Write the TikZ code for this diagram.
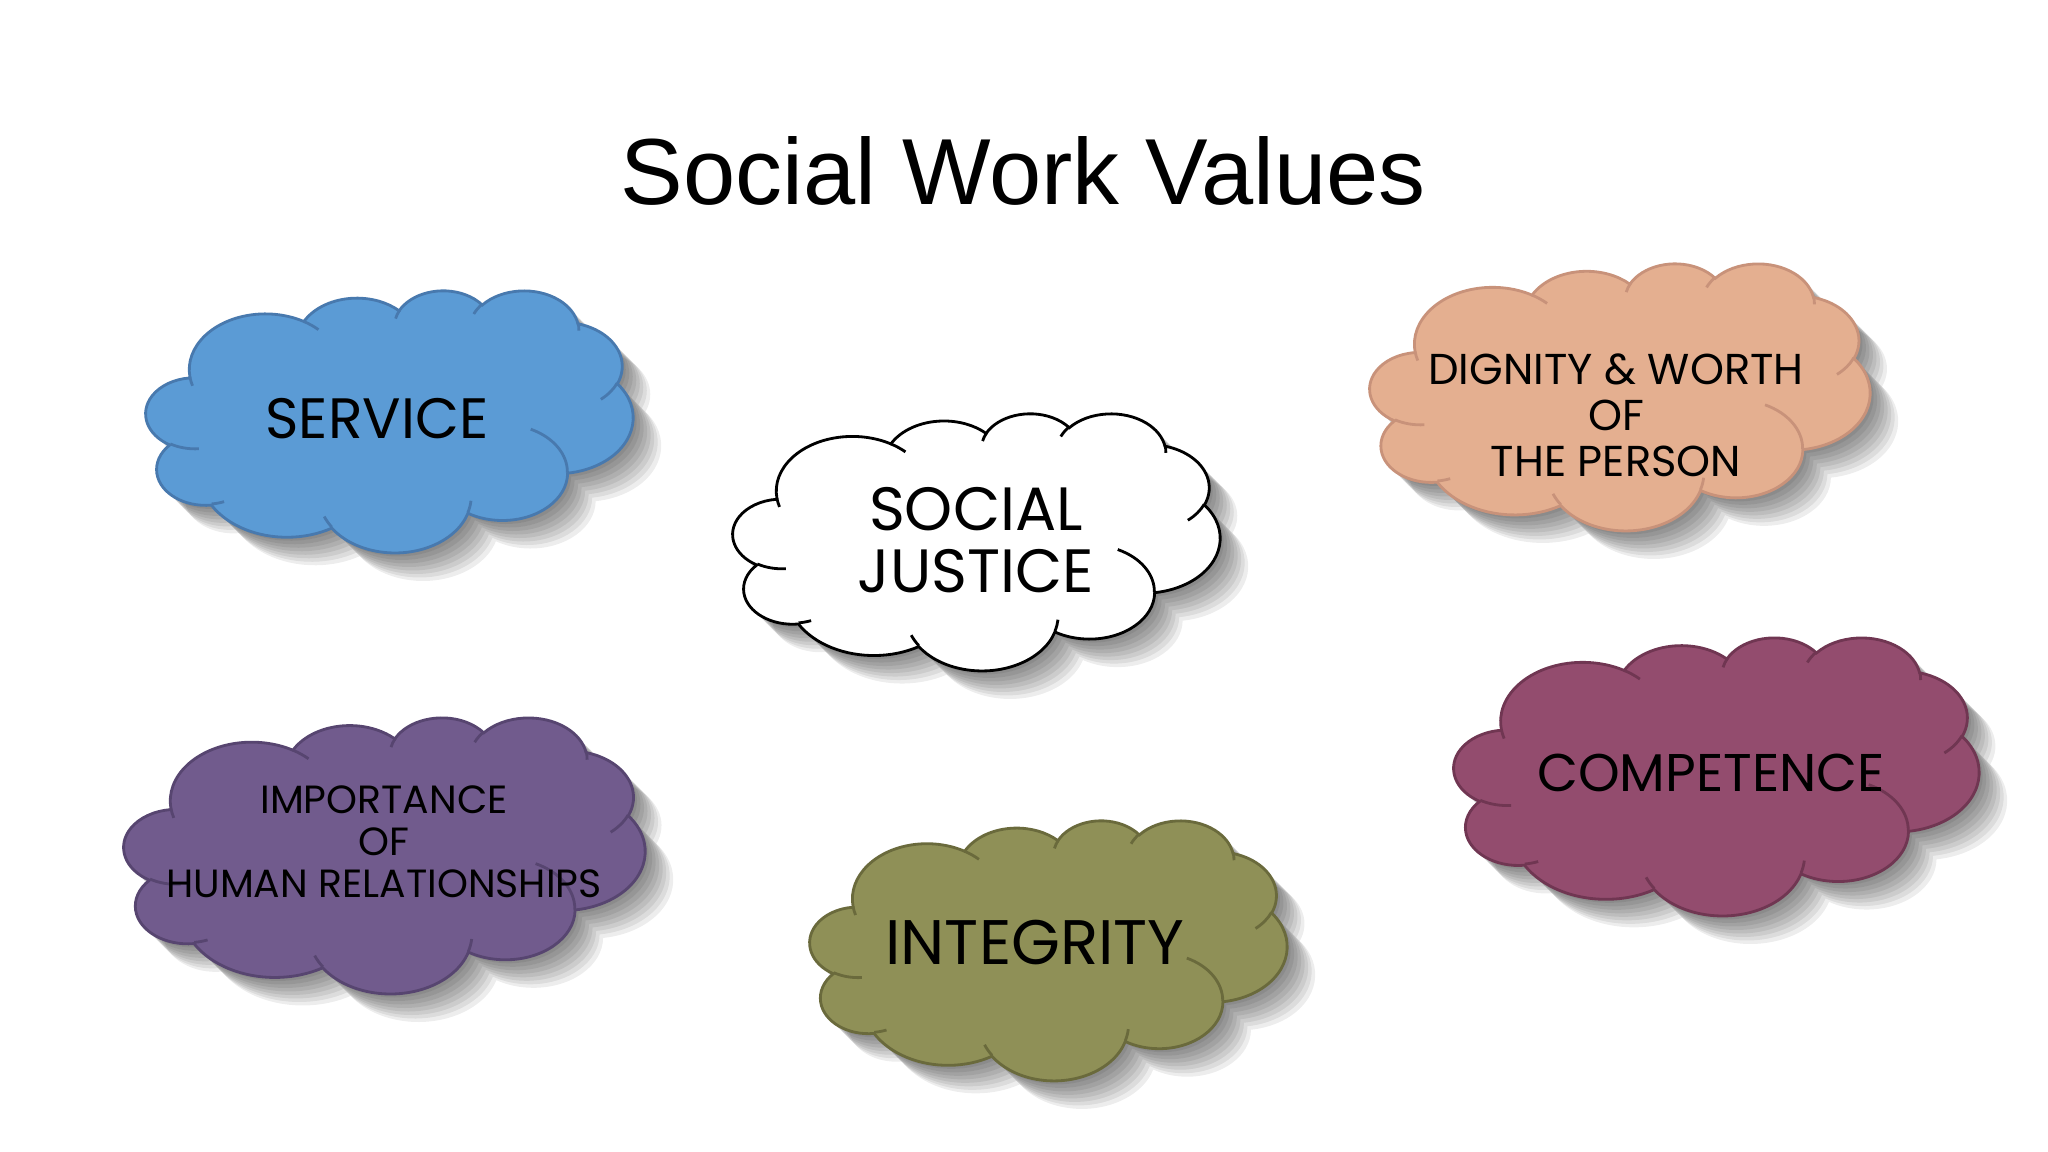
\documentclass[tikz,border=0pt]{standalone}
\usepackage{fontspec}
\setmainfont{Liberation Sans}
\newfontfamily\cloudfont{Poppins}
\usetikzlibrary{positioning}

\definecolor{serviceblue}{HTML}{5B9BD5}
\definecolor{serviceline}{HTML}{4879AE}
\definecolor{dignitypeach}{HTML}{E4AF90}
\definecolor{dignityline}{HTML}{C8927A}
\definecolor{humanpurple}{HTML}{715B8D}
\definecolor{humanline}{HTML}{574570}
\definecolor{integrityolive}{HTML}{8F9057}
\definecolor{integrityline}{HTML}{6A6A3C}
\definecolor{competencewine}{HTML}{934C6E}
\definecolor{competenceline}{HTML}{703652}

% one arc of the cloud, angles as the slide program stores them
\newcommand{\cloudarc}[4]{arc[x radius=#1, y radius=#2,
  start angle={atan2(#1*sin(#3),#2*cos(#3))},
  delta angle={Mod(atan2(#1*sin(#3+#4),#2*cos(#3+#4))-atan2(#1*sin(#3),#2*cos(#3)),360)}]}

% outline of a cloud in a 43.2 x 43.2 box
\newcommand{\cloudbody}[1]{%
  \path[#1] (3.900,14.370) \cloudarc{6.753}{9.190}{-190.487}{123.781}
    \cloudarc{5.333}{7.267}{-144.102}{89.945}
    \cloudarc{4.365}{5.945}{-145.808}{99.723}
    \cloudarc{4.857}{6.595}{-130.986}{117.242}
    \cloudarc{5.333}{7.273}{-78.709}{109.027}
    \cloudarc{6.775}{9.220}{-46.267}{130.269}
    \cloudarc{5.785}{7.867}{0.625}{114.033}
    \cloudarc{6.752}{9.215}{22.452}{115.173}
    \cloudarc{7.720}{10.543}{66.243}{75.711}
    \cloudarc{4.360}{5.918}{-274.942}{146.736}
    \cloudarc{4.345}{5.945}{-246.829}{152.519} -- cycle;}

% the little inner strokes
\newcommand{\cloudfolds}[1]{%
  \path[#1] (4.693,26.177) \cloudarc{4.345}{5.945}{86.742}{26.430}
    (6.928,34.899) \cloudarc{4.360}{5.918}{73.610}{11.447}
    (16.478,39.090) \cloudarc{6.752}{9.215}{137.624}{14.081}
    (28.827,34.751) \cloudarc{6.752}{9.215}{6.453}{15.998}
    (34.129,22.954) \cloudarc{5.785}{7.867}{-70.292}{70.917}
    (41.798,15.354) \cloudarc{5.333}{7.273}{30.318}{27.752}
    (38.324,5.426) \cloudarc{4.857}{6.595}{-13.744}{14.859}
    (29.078,3.952) \cloudarc{4.857}{6.595}{-149.181}{18.195}
    (22.141,4.720) \cloudarc{4.365}{5.945}{-163.494}{17.686}
    (14.000,5.192) \cloudarc{6.753}{9.190}{-66.707}{12.319}
    (4.127,15.789) \cloudarc{6.753}{9.190}{157.654}{11.858};}

% #1,#2 top left corner, #3 width, #4 height, #5 fill, #6 line
\newcommand{\valuecloud}[6]{%
  \foreach \d in {1,...,8}{
    \begin{scope}[shift={(#1+0.035*\d,#2-0.035*\d)}, xscale=#3/43.2, yscale=-#4/43.2]
      \cloudbody{fill=black, fill opacity=0.07}
    \end{scope}}
  \begin{scope}[shift={(#1,#2)}, xscale=#3/43.2, yscale=-#4/43.2]
    \cloudbody{fill=#5, draw=#6, line width=0.8pt}
    \cloudfolds{draw=#6, line width=0.8pt}
  \end{scope}}

\begin{document}
\begin{tikzpicture}[
    valuetext/.style={align=center, text=black, inner sep=0pt},
  ]
  \fill[white] (0,0) rectangle (20.48,11.52);
  \useasboundingbox (0,0) rectangle (20.48,11.52);

  \node[anchor=base, font=\fontsize{26.7}{32}\selectfont] (title) at (10.23,9.47) {Social Work Values};

  % clouds
  \valuecloud{1.46}{8.62}{4.87}{2.62}{serviceblue}{serviceline}
  \valuecloud{7.33}{7.39}{4.87}{2.57}{white}{black}
  \valuecloud{13.70}{8.89}{5.00}{2.67}{dignitypeach}{dignityline}
  \valuecloud{1.24}{4.35}{5.21}{2.76}{humanpurple}{humanline}
  \valuecloud{8.10}{3.32}{4.77}{2.60}{integrityolive}{integrityline}
  \valuecloud{14.54}{5.15}{5.25}{2.78}{competencewine}{competenceline}

  % labels
  \node[valuetext, font=\cloudfont\fontsize{16.2}{19}\selectfont] (service) at (3.77,7.33) {SERVICE};
  \node[valuetext, font=\cloudfont\fontsize{17.4}{17.5}\selectfont] (justice) at (9.76,6.12) {SOCIAL\\JUSTICE};
  \node[valuetext, font=\cloudfont\fontsize{12.3}{13.1}\selectfont] (dignity) at (16.16,7.37) {DIGNITY \& WORTH\\OF\\THE PERSON};
  \node[valuetext, font=\cloudfont\fontsize{11.2}{11.9}\selectfont] (human) at (3.84,3.10) {IMPORTANCE\\OF\\HUMAN RELATIONSHIPS};
  \node[valuetext, font=\cloudfont\fontsize{17.9}{20}\selectfont] (integrity) at (10.35,2.09) {INTEGRITY};
  \node[valuetext, font=\cloudfont\fontsize{15.1}{18}\selectfont] (competence) at (17.11,3.79) {COMPETENCE};
\end{tikzpicture}
\end{document}
